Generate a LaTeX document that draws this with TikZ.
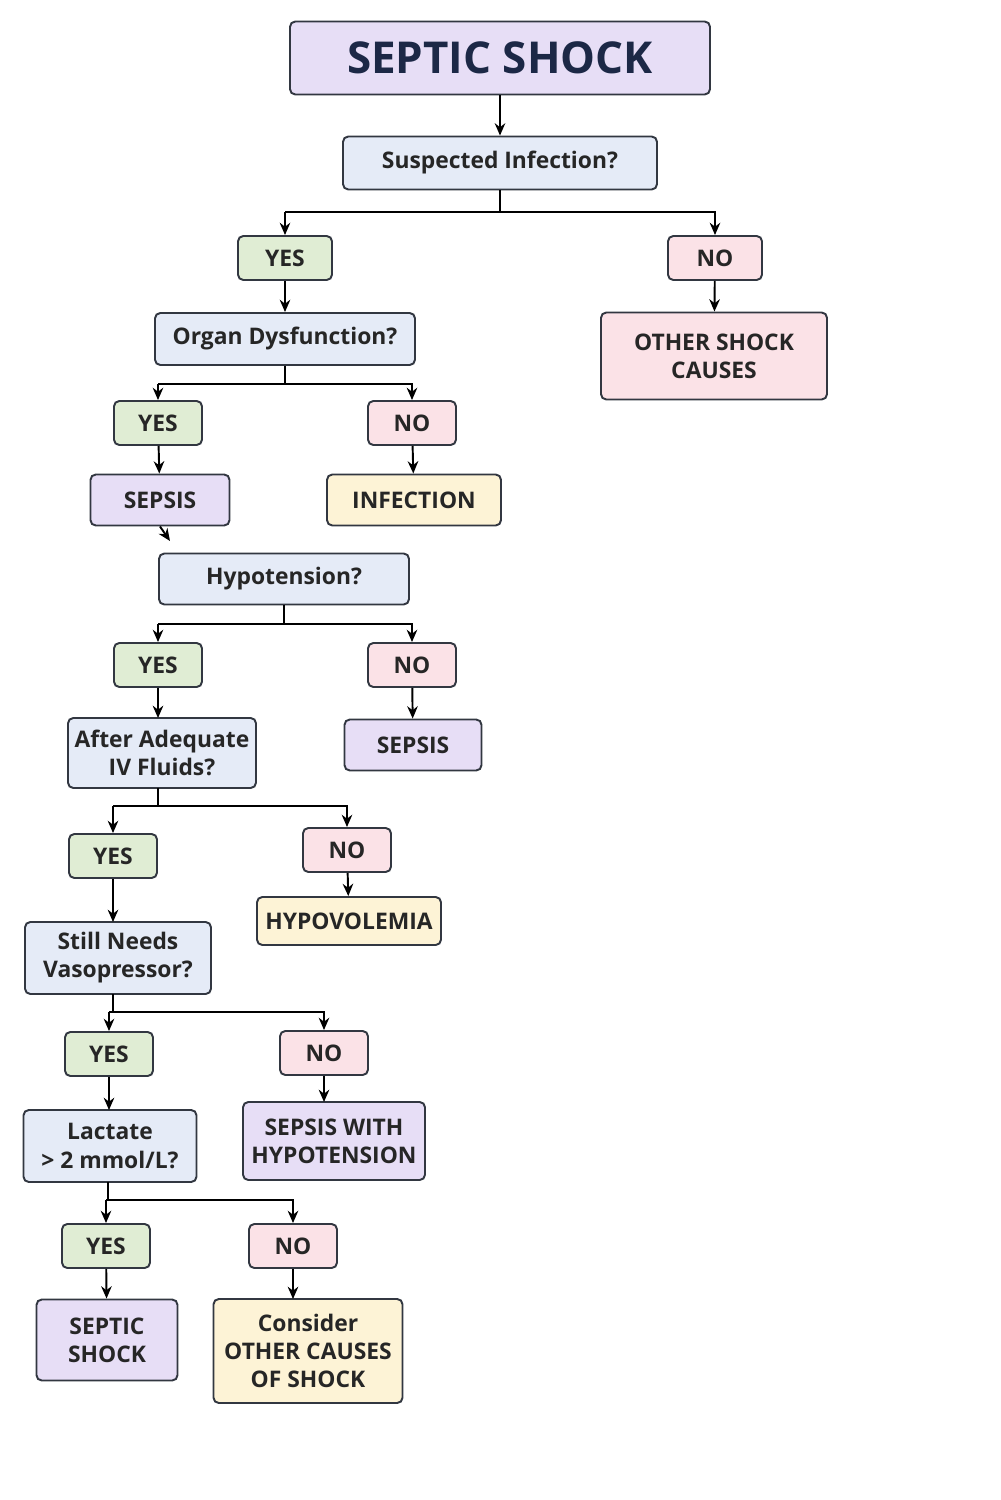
\documentclass[tikz,border=0pt]{standalone}
\usepackage{fontspec}
\setmainfont{Open Sans}
\usetikzlibrary{arrows.meta}
\definecolor{qfill}{RGB}{229, 235, 247}
\definecolor{pfill}{RGB}{231, 222, 246}
\definecolor{yfill}{RGB}{224, 237, 212}
\definecolor{nfill}{RGB}{251, 226, 231}
\definecolor{ofill}{RGB}{253, 243, 214}
\definecolor{edge}{RGB}{50, 55, 65}
\definecolor{titletext}{RGB}{28, 40, 70}
\newcommand{\px}{0.02cm}
\tikzset{
    every node/.style={font=\fontsize{13}{16}\selectfont\bfseries, text=black!85,
        align=center},
    box/.style={draw=edge, line width=1.1pt, rounded corners=3pt,
        inner sep=0pt},
    question/.style={box, fill=qfill},
    result/.style={box, fill=pfill},
    yesbox/.style={box, fill=yfill, minimum width=88*\px, minimum height=44*\px},
    nobox/.style={box, fill=nfill, minimum width=88*\px, minimum height=44*\px},
    other/.style={box, fill=ofill},
    link/.style={draw=black, line width=1.1pt, -{Stealth[length=7pt, width=6pt]}},
    bar/.style={draw=black, line width=1.1pt},
}
\begin{document}
\begin{tikzpicture}[x=0.02cm, y=-0.02cm]
        \useasboundingbox[fill=white] (0, 0) rectangle (1000, 1500);

        \node[result, minimum width=420*\px, minimum height=73*\px,
            font=\fontsize{25}{30}\selectfont\bfseries, text=titletext]
            (title) at (500, 58) {SEPTIC SHOCK};
        \node[question, minimum width=314*\px, minimum height=53*\px]
            (infq) at (500, 163) {Suspected Infection?};
        \node[yesbox, minimum width=94*\px] (yes1) at (285, 258) {YES};
        \node[nobox, minimum width=94*\px] (no1) at (715, 258) {NO};
        \node[box, fill=nfill, minimum width=226*\px, minimum height=87*\px]
            (othercauses) at (714, 356) {OTHER SHOCK\\CAUSES};

        \node[question, minimum width=260*\px, minimum height=52*\px]
            (organq) at (285, 339) {Organ Dysfunction?};
        \node[yesbox] (yes2) at (158, 423) {YES};
        \node[nobox] (no2) at (412, 423) {NO};
        \node[result, minimum width=139*\px, minimum height=51*\px]
            (sepsis1) at (160, 500) {SEPSIS};
        \node[other, minimum width=174*\px, minimum height=51*\px]
            (infection) at (414, 500) {INFECTION};
        \coordinate (stub) at (170, 541);

        \node[question, minimum width=250*\px, minimum height=51*\px]
            (hypoq) at (284, 579) {Hypotension?};
        \node[yesbox] (yes3) at (158, 665) {YES};
        \node[nobox] (no3) at (412, 665) {NO};
        \node[question, minimum width=188*\px, minimum height=70*\px]
            (fluidq) at (162, 753) {After Adequate\\IV Fluids?};
        \node[result, minimum width=137*\px, minimum height=51*\px]
            (sepsis2) at (413, 745) {SEPSIS};

        \node[yesbox] (yes4) at (113, 856) {YES};
        \node[nobox] (no4) at (347, 850) {NO};
        \node[other, minimum width=184*\px, minimum height=48*\px]
            (hypovol) at (349, 921) {HYPOVOLEMIA};
        \node[question, minimum width=186*\px, minimum height=72*\px]
            (vasoq) at (118, 958) {Still Needs\\Vasopressor?};

        \node[yesbox] (yes5) at (109, 1054) {YES};
        \node[nobox] (no5) at (324, 1053) {NO};
        \node[result, minimum width=182*\px, minimum height=78*\px]
            (sepsishypo) at (334, 1141) {SEPSIS WITH\\HYPOTENSION};
        \node[question, minimum width=173*\px, minimum height=72*\px]
            (lactq) at (110, 1146) {Lactate\\> 2 mmol/L?};

        \node[yesbox] (yes6) at (106, 1246) {YES};
        \node[nobox] (no6) at (293, 1246) {NO};
        \node[result, minimum width=141*\px, minimum height=81*\px]
            (septic) at (107, 1340) {SEPTIC\\SHOCK};
        \node[other, minimum width=189*\px, minimum height=104*\px]
            (consider) at (308, 1351) {Consider\\OTHER CAUSES\\OF SHOCK};

        % connectors
        \draw[link] (title) -- (infq);
        \draw[bar] (infq.south) -- (500, 212) -| (285, 212);
        \draw[link] (285, 212) -- (yes1);
        \draw[link] (500, 212) -| (no1);
        \draw[link] (yes1) -- (organq);
        \draw[link] (no1) -- (othercauses);

        \draw[bar] (organq.south) -- (285, 384) -- (158, 384);
        \draw[link] (158, 384) -- (yes2);
        \draw[link] (285, 384) -| (no2);
        \draw[link] (yes2) -- (sepsis1);
        \draw[link] (no2) -- (infection);
        \draw[link] (sepsis1.south) -- (stub);

        \draw[bar] (hypoq.south) -- (284, 624) -- (158, 624);
        \draw[link] (158, 624) -- (yes3);
        \draw[link] (284, 624) -| (no3);
        \draw[link] (yes3) -- (158, 718);
        \draw[link] (no3) -- (sepsis2);

        \draw[bar] (158, 788) -- (158, 806) -- (113, 806);
        \draw[link] (113, 806) -- (yes4);
        \draw[link] (158, 806) -| (no4);
        \draw[link] (yes4) -- (113, 922);
        \draw[link] (no4) -- (hypovol);

        \draw[bar] (113, 994) -- (113, 1012) -- (109, 1012);
        \draw[link] (109, 1012) -- (yes5);
        \draw[link] (113, 1012) -| (no5);
        \draw[link] (yes5) -- (109, 1110);
        \draw[link] (no5) -- (324, 1102);

        \draw[bar] (108, 1182) -- (108, 1200) -- (106, 1200);
        \draw[link] (106, 1200) -- (yes6);
        \draw[link] (108, 1200) -| (no6);
        \draw[link] (yes6) -- (septic);
        \draw[link] (no6) -- (293, 1299);
    \end{tikzpicture}
\end{document}
